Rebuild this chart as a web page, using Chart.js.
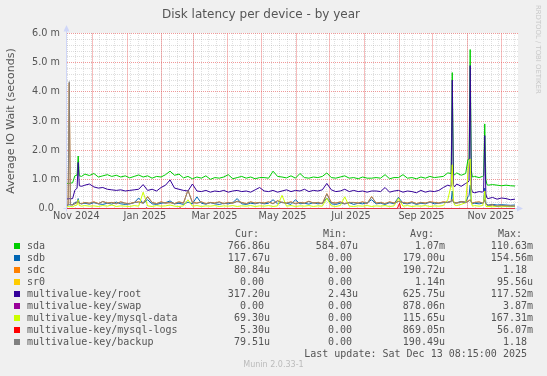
<!DOCTYPE html>
<html>
<head>
<meta charset="utf-8">
<title>Disk latency per device - by year</title>
<script src="https://cdn.jsdelivr.net/npm/chart.js@4.4.1/dist/chart.umd.min.js"></script>
<style>
  html, body { margin: 0; padding: 0; background: #f0f0f0; }
  #graph { position: relative; width: 547px; height: 376px; overflow: hidden; background: #f0f0f0;
           color: #555; font-family: "DejaVu Sans", sans-serif; }
  #graph canvas { position: absolute; left: 0; top: 0; }
  #title { position: absolute; left: 0; top: 7px; width: 522px; text-align: center;
           font-size: 12px; line-height: 14px; white-space: nowrap; }
  #watermark { position: absolute; left: 541.5px; top: 5px; font-size: 6.9px; line-height: 8px;
               color: #c8c8c8; white-space: nowrap; transform: rotate(90deg); transform-origin: 0 0; }
  #version { position: absolute; left: 0; top: 360px; width: 547px; text-align: center;
             font-size: 8px; line-height: 10px; color: #bbb; }
  #legend { position: absolute; left: 0; top: 0; width: 547px; height: 376px;
            font-family: "DejaVu Sans Mono", monospace; font-size: 10px; line-height: 12px; white-space: pre; }
  #legend span { position: absolute; }
  #legend .sw { width: 6px; height: 6px; }
</style>
</head>
<body>
<div id="graph">
  <canvas id="chart" width="547" height="376"></canvas>
  <div id="title">Disk latency per device - by year</div>
  <div id="watermark">RRDTOOL / TOBI OETIKER</div>
  <div id="legend"></div>
  <div id="version">Munin 2.0.33-1</div>
</div>
<script>
// ---------------------------------------------------------------------------
//  data (x = days since graph start, y = milliseconds)
// ---------------------------------------------------------------------------
const days = [0,1,2,3,5,7,9,10,11,13,
  16,20,24,28,32,36,40,44,48,52,
  56,60,64,68,72,76,80,84,88,92,
  96,100,104,108,112,116,120,124,128,132,
  136,140,144,148,152,156,160,164,168,172,
  176,180,184,188,192,196,200,204,208,212,
  216,220,224,228,232,236,240,244,248,252,
  256,260,264,268,272,276,280,284,288,292,
  296,300,304,308,312,316,320,324,328,332,
  336,340,343,344,345,346,348,352,356,358,
  359,360,361,362,364,368,371,372,373,374,
  375,376,380,384,388,392,396,400];

const sda = [0.86,0.86,0.86,0.87,0.88,1.12,1.15,1.80,1.12,1.10,
  1.18,1.13,1.20,1.08,1.12,1.16,1.10,1.14,1.08,1.12,
  1.05,1.10,1.15,1.08,1.12,1.04,1.10,1.08,1.16,1.28,
  1.14,1.18,1.05,1.10,1.02,1.08,1.04,1.12,1.00,1.06,
  1.04,1.08,1.16,1.02,1.06,1.10,1.04,1.08,1.02,1.06,
  1.06,1.04,1.28,1.10,1.08,1.05,1.12,1.04,1.20,1.06,
  1.04,1.08,1.06,1.10,1.22,1.06,1.04,1.08,1.12,1.04,
  1.06,1.02,1.08,1.04,1.04,1.06,1.04,1.16,1.02,1.06,
  1.06,1.16,1.04,1.06,1.02,1.08,1.04,1.10,1.06,1.08,
  1.10,1.22,1.20,4.66,1.22,1.15,1.22,1.14,1.20,1.68,
  1.70,5.45,1.30,1.08,1.10,1.06,1.10,1.12,2.90,1.00,
  0.82,0.80,0.82,0.80,0.78,0.80,0.78,0.77];

const sdb = [0.12,0.12,0.13,0.12,0.14,0.20,0.22,0.34,0.18,0.16,
  0.18,0.15,0.20,0.16,0.14,0.18,0.15,0.22,0.16,0.14,
  0.16,0.20,0.36,0.18,0.30,0.16,0.14,0.18,0.20,0.26,
  0.16,0.18,0.14,0.22,0.16,0.40,0.18,0.15,0.20,0.16,
  0.14,0.18,0.16,0.20,0.34,0.16,0.14,0.18,0.16,0.20,
  0.16,0.18,0.30,0.16,0.22,0.18,0.14,0.30,0.16,0.18,
  0.15,0.20,0.16,0.18,0.36,0.16,0.14,0.18,0.16,0.20,
  0.14,0.18,0.16,0.20,0.30,0.16,0.18,0.14,0.20,0.16,
  0.38,0.18,0.16,0.20,0.14,0.18,0.16,0.22,0.16,0.18,
  0.20,0.22,0.24,0.60,0.22,0.18,0.20,0.24,0.22,0.40,
  0.45,0.80,0.22,0.16,0.18,0.16,0.18,0.22,0.70,0.18,
  0.14,0.12,0.14,0.12,0.13,0.12,0.11,0.12];

const sdc = [0.10,0.12,4.30,0.14,0.12,0.17,0.21,0.25,0.18,0.17,
  0.21,0.18,0.23,0.17,0.24,0.19,0.21,0.17,0.23,0.18,
  0.17,0.21,0.23,0.19,0.41,0.21,0.17,0.23,0.19,0.21,
  0.17,0.23,0.19,0.63,0.21,0.19,0.23,0.17,0.21,0.19,
  0.23,0.17,0.21,0.19,0.25,0.21,0.17,0.23,0.19,0.21,
  0.19,0.23,0.17,0.27,0.21,0.19,0.23,0.17,0.21,0.19,
  0.25,0.19,0.21,0.17,0.51,0.21,0.19,0.23,0.17,0.21,
  0.21,0.19,0.23,0.17,0.41,0.19,0.21,0.17,0.23,0.19,
  0.25,0.21,0.19,0.23,0.17,0.21,0.19,0.23,0.21,0.19,
  0.23,0.21,0.25,0.31,0.23,0.21,0.19,0.23,0.21,0.25,
  0.27,0.31,0.23,0.19,0.21,0.23,0.19,0.21,0.31,0.17,
  0.12,0.10,0.12,0.08,0.10,0.09,0.08,0.08];

const srDays = [0, 400];
const sr0 = [0, 0];

const root = [0.33,0.33,0.34,0.33,0.34,0.62,0.70,1.58,0.78,0.76,
  0.80,0.84,0.74,0.70,0.72,0.66,0.64,0.62,0.64,0.60,
  0.62,0.64,0.66,0.82,0.62,0.66,0.60,0.72,0.80,0.98,
  0.70,0.66,0.62,0.60,0.84,0.60,0.58,0.62,0.56,0.60,
  0.58,0.62,0.56,0.60,0.62,0.58,0.60,0.56,0.64,0.72,
  0.60,0.58,0.62,0.56,0.60,0.64,0.58,0.62,0.60,0.66,
  0.58,0.62,0.60,0.64,0.86,0.64,0.58,0.60,0.66,0.58,
  0.62,0.58,0.60,0.56,0.60,0.60,0.58,0.72,0.56,0.60,
  0.62,0.56,0.60,0.58,0.54,0.62,0.56,0.60,0.58,0.62,
  0.72,0.80,0.76,4.40,0.82,0.74,0.84,0.76,0.86,0.90,
  0.95,4.90,0.70,0.56,0.54,0.58,0.56,0.60,2.50,0.50,
  0.36,0.34,0.38,0.32,0.36,0.34,0.30,0.32];

const swapDays = [0, 70, 71, 72, 100, 101, 102, 400];
const swap = [0, 0, 0.03, 0, 0, 0.03, 0, 0];

const mysqlData = [0.06,0.07,0.06,0.07,0.06,0.10,0.12,0.30,0.10,0.08,
  0.10,0.08,0.09,0.07,0.10,0.08,0.12,0.07,0.09,0.08,
  0.07,0.10,0.08,0.56,0.09,0.07,0.10,0.08,0.09,0.12,
  0.08,0.07,0.09,0.30,0.08,0.10,0.07,0.09,0.08,0.10,
  0.07,0.09,0.08,0.10,0.07,0.09,0.08,0.10,0.07,0.09,
  0.08,0.10,0.07,0.09,0.45,0.08,0.10,0.07,0.09,0.08,
  0.10,0.07,0.09,0.08,0.35,0.09,0.07,0.10,0.40,0.08,
  0.07,0.09,0.08,0.10,0.07,0.09,0.08,0.10,0.07,0.09,
  0.35,0.08,0.10,0.07,0.09,0.08,0.10,0.07,0.09,0.08,
  0.10,0.30,0.80,1.50,0.30,0.12,0.10,0.14,0.20,1.20,
  1.60,1.70,0.20,0.08,0.10,0.08,0.10,0.20,0.60,0.08,
  0.06,0.07,0.06,0.07,0.06,0.07,0.06,0.07];

const logsDays = [0, 295, 296, 297, 298, 400];
const mysqlLogs = [0, 0, 0.10, 0.18, 0, 0];

const backup = [0.10,0.12,4.35,0.14,0.12,0.16,0.20,0.24,0.18,0.16,
  0.20,0.18,0.22,0.16,0.24,0.18,0.20,0.16,0.22,0.18,
  0.16,0.20,0.22,0.18,0.40,0.20,0.16,0.22,0.18,0.20,
  0.16,0.22,0.18,0.62,0.20,0.18,0.22,0.16,0.20,0.18,
  0.22,0.16,0.20,0.18,0.24,0.20,0.16,0.22,0.18,0.20,
  0.18,0.22,0.16,0.26,0.20,0.18,0.22,0.16,0.20,0.18,
  0.24,0.18,0.20,0.16,0.50,0.20,0.18,0.22,0.16,0.20,
  0.20,0.18,0.22,0.16,0.40,0.18,0.20,0.16,0.22,0.18,
  0.24,0.20,0.18,0.22,0.16,0.20,0.18,0.22,0.20,0.18,
  0.22,0.20,0.24,0.30,0.22,0.20,0.18,0.22,0.20,0.24,
  0.26,0.30,0.22,0.18,0.20,0.22,0.18,0.20,0.30,0.16,
  0.12,0.10,0.12,0.08,0.10,0.09,0.08,0.08];

const seriesNames = ["sda", "sdb", "sdc", "sr0", "multivalue-key/root", "multivalue-key/swap",
  "multivalue-key/mysql-data", "multivalue-key/mysql-logs", "multivalue-key/backup"];
const seriesColors = ["#00CC00", "#0066B3", "#FF8000", "#FFCC00", "#330099", "#990099",
  "#CCFF00", "#FF0000", "#808080"];
const seriesX = [days, days, days, srDays, days, swapDays, days, logsDays, days];
const seriesY = [sda, sdb, sdc, sr0, root, swap, mysqlData, mysqlLogs, backup];

const curText = ["766.86u", "117.67u", "80.84u", "0.00", "317.20u", "0.00", "69.30u", "5.30u", "79.51u"];
const minText = ["584.07u", "0.00", "0.00", "0.00", "2.43u", "0.00", "0.00", "0.00", "0.00"];
const avgText = ["1.07m", "179.00u", "190.72u", "1.14n", "625.75u", "878.06n", "115.65u", "869.05n", "190.49u"];
const maxText = ["110.63m", "154.56m", "1.18", "95.56u", "117.52m", "3.87m", "167.31m", "56.07m", "1.18"];

// axis: month labels and month / week grid lines (days since start)
const xLabelText = ["Nov 2024", "Jan 2025", "Mar 2025", "May 2025", "Jul 2025", "Sep 2025", "Nov 2025"];
const xLabelDays = [8.3, 69.6, 131.7, 192.4, 253.6, 316.5, 378.5];
const monthDays = [22.66, 53.66, 84.66, 112.66, 143.66, 173.66, 204.66, 234.66, 265.66,
  296.66, 326.66, 357.66, 387.66];
const weekStart = 0.66;
const xMax = 402.7;
const yMax = 6;

// ---------------------------------------------------------------------------
//  ticks
// ---------------------------------------------------------------------------
const weekDays = [];
for (let k = 0; weekStart + 7 * k < xMax; k++) weekDays.push(weekStart + 7 * k);

const yTickValues = [];
for (let k = 0; k <= yMax * 5; k++) yTickValues.push(k / 5);

const MAJOR = "rgba(230,70,70,0.55)";
const MINOR = "rgba(143,143,143,0.3)";
const MONTH_LINE = "rgba(235,90,90,0.4)";
const WEEK_DOT = "rgba(143,143,143,0.28)";

function yIsMajor(v) { return Math.abs(v - Math.round(v)) < 1e-9; }

// ---------------------------------------------------------------------------
//  plot background, vertical grid, axis arrows
// ---------------------------------------------------------------------------
const plotDecor = {
  id: "plotDecor",
  beforeDraw(chart) {
    const { ctx, chartArea: a } = chart;
    ctx.save();
    ctx.fillStyle = "#ffffff";
    ctx.fillRect(a.left, a.top - 0.5, a.right - a.left, a.bottom - a.top + 1);
    ctx.restore();
  },
  beforeDatasetsDraw(chart) {
    const { ctx, chartArea: a } = chart;
    const xs = chart.scales.x;
    const top = Math.floor(a.top), bottom = Math.floor(a.bottom);
    const colOf = d => Math.round(xs.getPixelForValue(d) - 0.5);

    ctx.save();
    // weekly grid: dotted
    ctx.fillStyle = WEEK_DOT;
    weekDays.forEach(d => {
      const px = colOf(d);
      for (let y = top; y <= bottom; y += 2) ctx.fillRect(px, y, 1, 1);
    });
    // monthly grid: light red line
    ctx.fillStyle = MONTH_LINE;
    monthDays.forEach(d => ctx.fillRect(colOf(d), top, 1, bottom - top + 1));

    const ax = a.left - 0.5, ay = a.bottom;
    ctx.strokeStyle = "#CFD6F8";
    ctx.fillStyle = "#CFD6F8";
    ctx.lineWidth = 1;
    ctx.beginPath();
    ctx.moveTo(ax, ay + 3); ctx.lineTo(ax, a.top - 3);
    ctx.moveTo(ax - 3, ay); ctx.lineTo(a.right + 1, ay);
    ctx.stroke();
    ctx.beginPath();
    ctx.moveTo(ax - 3, a.top - 2); ctx.lineTo(ax + 3, a.top - 2); ctx.lineTo(ax, a.top - 8.5);
    ctx.closePath(); ctx.fill();
    ctx.beginPath();
    ctx.moveTo(a.right - 1, ay - 3); ctx.lineTo(a.right - 1, ay + 3); ctx.lineTo(a.right + 5, ay);
    ctx.closePath(); ctx.fill();
    ctx.restore();
  }
};

// ---------------------------------------------------------------------------
//  chart
// ---------------------------------------------------------------------------
const datasets = seriesNames.map((name, i) => ({
  label: name,
  data: seriesY[i].map((v, j) => ({ x: seriesX[i][j], y: v })),
  borderColor: seriesColors[i],
  backgroundColor: seriesColors[i],
  borderWidth: 1,
  pointRadius: 0,
  tension: 0,
  fill: false,
  order: seriesNames.length - 1 - i
}));

new Chart(document.getElementById("chart"), {
  type: "line",
  data: { datasets },
  options: {
    responsive: false,
    animation: false,
    devicePixelRatio: 1,
    layout: { padding: { left: 0, right: 29, top: 33.5, bottom: 0 } },
    plugins: { legend: { display: false }, tooltip: { enabled: false } },
    scales: {
      x: {
        type: "linear",
        min: 0,
        max: xMax,
        afterBuildTicks: s => { s.ticks = xLabelDays.map(v => ({ value: v })); },
        afterFit: s => { s.height = 167.5; },
        grid: { display: false, drawTicks: false },
        border: { display: false },
        ticks: {
          autoSkip: false,
          maxRotation: 0,
          padding: 2,
          color: "#555",
          font: { family: "DejaVu Sans", size: 9.7 },
          callback: (v, i) => xLabelText[i]
        }
      },
      y: {
        type: "linear",
        min: 0,
        max: yMax,
        afterBuildTicks: s => { s.ticks = yTickValues.map(v => ({ value: v })); },
        afterFit: s => { s.width = 67; },
        grid: {
          drawTicks: false,
          lineWidth: 1,
          color: c => (c.tick && yIsMajor(c.tick.value)) ? MAJOR : MINOR
        },
        border: { display: false, dash: [1, 1] },
        title: {
          display: true,
          text: "Average IO Wait (seconds)",
          color: "#555",
          font: { family: "DejaVu Sans", size: 11 },
          padding: { top: 5, bottom: 0 }
        },
        ticks: {
          autoSkip: false,
          padding: 7,
          color: "#555",
          font: { family: "DejaVu Sans", size: 9.7 },
          callback: v => {
            if (!yIsMajor(v)) return "";
            return v === 0 ? "0.0  " : v.toFixed(1) + " m";
          }
        }
      }
    }
  },
  plugins: [plotDecor]
});

// ---------------------------------------------------------------------------
//  legend table (Cur / Min / Avg / Max)
// ---------------------------------------------------------------------------
const legend = document.getElementById("legend");

function addText(text, left, top) {
  const s = document.createElement("span");
  s.textContent = text;
  s.style.left = left + "px";
  s.style.top = top + "px";
  legend.appendChild(s);
}

function addRight(text, edge, top) {
  const s = document.createElement("span");
  s.textContent = /\d$/.test(text) ? text + " " : text;
  s.style.left = (edge - 300) + "px";
  s.style.width = "300px";
  s.style.textAlign = "right";
  s.style.top = top + "px";
  legend.appendChild(s);
}

addText("Cur:", 235, 228);
addText("Min:", 323, 228);
addText("Avg:", 410, 228);
addText("Max:", 498, 228);

seriesNames.forEach((name, i) => {
  const top = 240 + 12 * i;
  const sw = document.createElement("span");
  sw.className = "sw";
  sw.style.left = "14px";
  sw.style.top = (top + 2.5) + "px";
  sw.style.background = seriesColors[i];
  legend.appendChild(sw);
  addText(name, 27, top);
  addRight(curText[i], 270, top);
  addRight(minText[i], 358, top);
  addRight(avgText[i], 445, top);
  addRight(maxText[i], 533, top);
});

addRight("Last update: Sat Dec 13 08:15:00 2025", 533, 348);
</script>
</body>
</html>
